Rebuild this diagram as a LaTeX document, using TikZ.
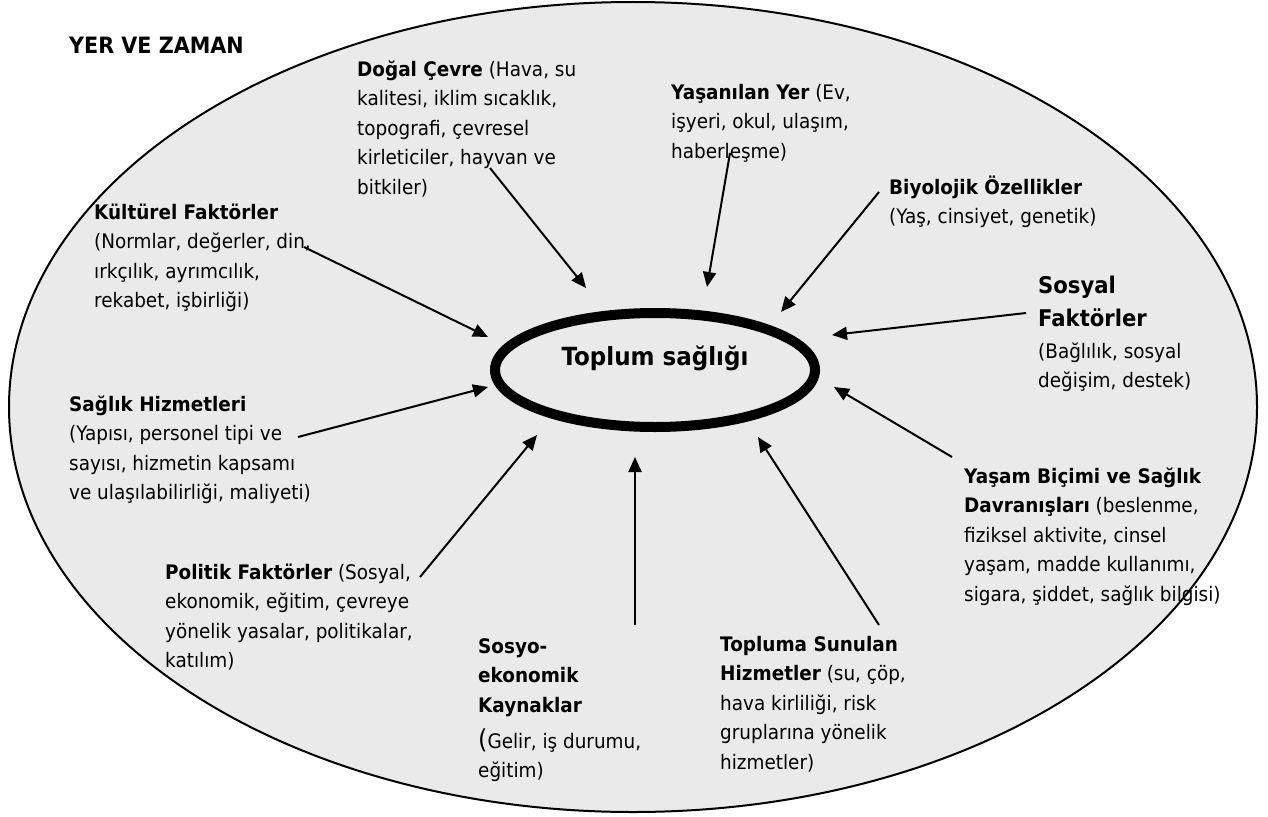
\documentclass[tikz,border=0pt]{standalone}
\usepackage{fontspec}
\setmainfont{DejaVu Sans}[FakeStretch=0.92]
\usetikzlibrary{arrows.meta,shapes.geometric}
\definecolor{bgray}{RGB}{234,234,234}
\newcommand{\bodyfont}{\fontsize{20}{29.5}\selectfont}
\newcommand{\firstln}{\rule{0pt}{20pt}}
\begin{document}
\begin{tikzpicture}[x=1pt,y=-1pt,
  txt/.style={anchor=north west, inner sep=0pt, align=left, font=\bodyfont},
  arr/.style={line width=2pt, -{Triangle[length=15pt,width=13pt]}},
]
\useasboundingbox (0,0) rectangle (1268,816);
\fill[white] (0,0) rectangle (1268,816);
% outer ellipse
\draw[line width=2pt, fill=bgray] (633,407) ellipse [x radius=624, y radius=405];

% title
\node[txt, font=\fontsize{22.5}{29.5}\selectfont\bfseries] (yer) at (69,33) {\firstln YER VE ZAMAN};

% central ellipse
\node[ellipse, draw, line width=10pt, minimum width=320pt, minimum height=114pt,
  inner sep=0pt, font=\fontsize{25}{30}\selectfont\bfseries,
  text height=20pt, text depth=30pt] (toplum) at (655,370) {Toplum sağlığı};

% text blocks
\node[txt] (dogal) at (357,56) {\firstln\textbf{Doğal Çevre} (Hava, su\\kalitesi, iklim sıcaklık,\\topografi, çevresel\\kirleticiler, hayvan ve\\bitkiler)};
\node[txt] (yasanilan) at (671,79) {\firstln\textbf{Yaşanılan Yer} (Ev,\\işyeri, okul, ulaşım,\\haberleşme)};
\node[txt] (biyo) at (889,174) {\firstln\textbf{Biyolojik Özellikler}\\(Yaş, cinsiyet, genetik)};
\node[txt] (kultur) at (94,199) {\firstln\textbf{Kültürel Faktörler}\\(Normlar, değerler, din,\\ırkçılık, ayrımcılık,\\rekabet, işbirliği)};
\node[txt, font=\fontsize{23}{33}\selectfont\bfseries] (sosyalT) at (1038,271) {\rule{0pt}{22pt}Sosyal\\Faktörler};
\node[txt] (sosyalB) at (1038,338) {\firstln(Bağlılık, sosyal\\değişim, destek)};
\node[txt] (saglik) at (69,391) {\firstln\textbf{Sağlık Hizmetleri}\\(Yapısı, personel tipi ve\\sayısı, hizmetin kapsamı\\ve ulaşılabilirliği, maliyeti)};
\node[txt] (yasam) at (964,463) {\firstln\textbf{Yaşam Biçimi ve Sağlık}\\\textbf{Davranışları} (beslenme,\\fiziksel aktivite, cinsel\\yaşam, madde kullanımı,\\sigara, şiddet, sağlık bilgisi)};
\node[txt] (politik) at (165,559) {\firstln\textbf{Politik Faktörler} (Sosyal,\\ekonomik, eğitim, çevreye\\yönelik yasalar, politikalar,\\katılım)};
\node[txt] (sosyo) at (478,633) {\firstln\textbf{Sosyo-}\\\textbf{ekonomik}\\\textbf{Kaynaklar}\\[6.5pt]{\fontsize{26}{29.5}\selectfont(}Gelir, iş durumu,\\eğitim)};
\node[txt] (topluma) at (720,631) {\firstln\textbf{Topluma Sunulan}\\\textbf{Hizmetler} (su, çöp,\\hava kirliliği, risk\\gruplarına yönelik\\hizmetler)};

% connector ends
\coordinate (dS) at (490,168);  \coordinate (dT) at (586,288);
\coordinate (yS) at (730,153);  \coordinate (yT) at (707,287);
\coordinate (bS) at (879,192);  \coordinate (bT) at (781,312);
\coordinate (sS) at (1026,313); \coordinate (sT) at (832,335);
\coordinate (ysS) at (952,457); \coordinate (ysT) at (834,387);
\coordinate (tS) at (879,625);  \coordinate (tT) at (758,437);
\coordinate (seS) at (635,625); \coordinate (seT) at (635,457);
\coordinate (pS) at (420,577);  \coordinate (pT) at (537,435);
\coordinate (shS) at (298,437); \coordinate (shT) at (488,387);
\coordinate (kS) at (304,247);  \coordinate (kT) at (488,337);

\draw[arr] (dS) -- (dT);
\draw[arr] (yS) -- (yT);
\draw[arr] (bS) -- (bT);
\draw[arr] (sS) -- (sT);
\draw[arr] (ysS) -- (ysT);
\draw[arr] (tS) -- (tT);
\draw[arr] (seS) -- (seT);
\draw[arr] (pS) -- (pT);
\draw[arr] (shS) -- (shT);
\draw[arr] (kS) -- (kT);
\end{tikzpicture}
\end{document}
